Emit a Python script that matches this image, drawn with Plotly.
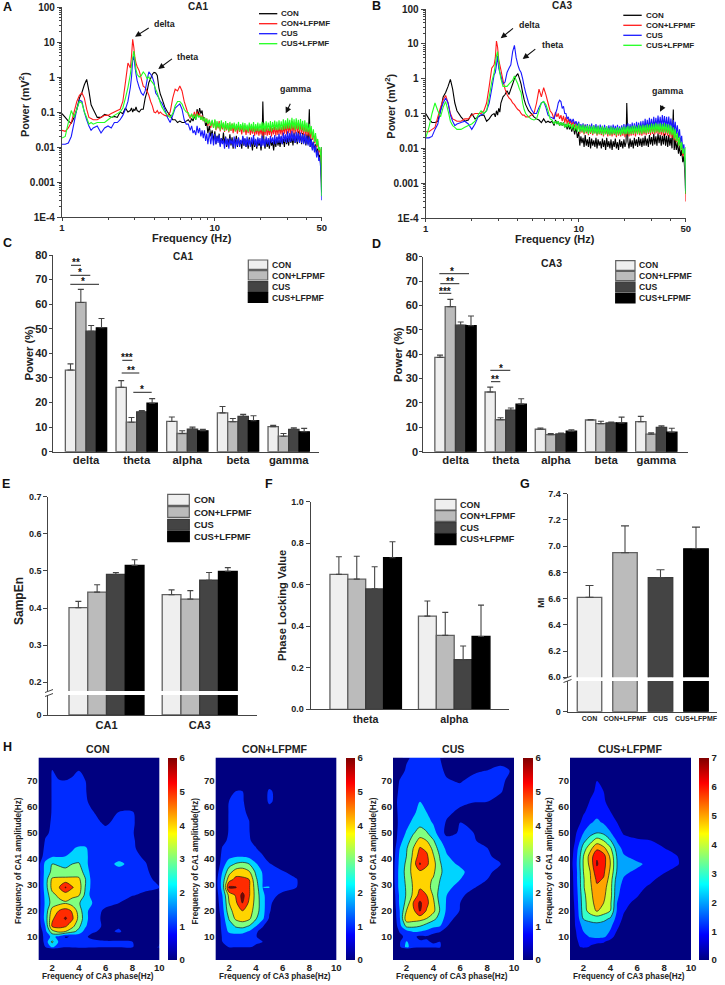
import plotly.graph_objects as go

W, H = 725, 985
FONT = "Liberation Sans"
GROUPS = ["CON", "CON+LFPMF", "CUS", "CUS+LFPMF"]
LINE_COLORS = ["#000000", "#ff1a1a", "#1a1aff", "#22ff22"]
BAR_FILL = ["#efefef", "#bbbbbb", "#444444", "#000000"]
BAR_EDGE = ["#606060", "#606060", "#3a3a3a", "#000000"]
AXC = "#444444"

# ------------------------------------------------------- spectra (A, B)
FREQ_LOW = [1.0,1.05,1.1,1.15,1.2,1.25,1.3,1.35,1.4,1.45,1.5,1.55,1.6,
        1.7,1.8,1.9,2.0,2.1,2.2,2.3,2.4,2.5,2.6,2.7,2.8,
        2.85,2.9,2.95,3.0,3.05,3.1,
        3.2,3.3,3.4,3.5,3.6,3.7,3.8,3.9,4.0,4.1,4.2,4.3,4.4,4.5,
        4.7,4.9,5.1,5.3,5.5,5.7,5.9,6.1,6.3,6.5,
        6.7,6.9,7.05,7.2,7.35,7.5,7.65,7.8,7.95,8.1,8.25,8.4,8.55,8.7,8.85,9.0,9.2,9.4,9.6,9.8]
FREQ_HIGH = [10,10.16,10.33,10.5,10.67,10.84,11.02,11.2,11.38,11.57,
        11.76,11.95,12.14,12.34,12.54,12.75,12.96,13.17,13.38,13.6,
        13.82,14.05,14.28,14.51,14.75,14.99,15.23,15.48,15.73,15.99,
        16.25,16.52,16.79,17.06,17.34,17.62,17.91,18.2,18.5,18.8,
        19.1,19.41,19.73,20.05,20.38,20.6,20.95,21.3,21.65,22,
        22.36,22.73,23.1,23.48,23.86,24.25,24.64,25.05,25.45,25.87,
        26.29,26.72,27.16,27.6,28.05,28.51,28.97,29.44,29.92,30.41,
        30.91,31.41,31.92,32.44,32.97,33.51,34.06,34.61,35.18,35.75,
        36.33,36.93,37.53,38.14,38.76,39.39,40.03,40.69,41.5,42.03,
        42.72,43.41,44.12,44.84,45.57,46.31,47.07,47.84,48.62,49.4,
        49.7,49.9,50]
FREQ = FREQ_LOW + FREQ_HIGH

A_CON = [.09,.07,.055,.048,.07,.12,.25,.36,.6,.85,.4,.16,.12,
         .07,.07,.085,.08,.07,.075,.07,.1,.09,.13,.1,.11,
         .13,.1,.12,.11,.14,.11,
         .1,.12,.12,.25,.38,.7,.9,1.2,1.35,1.3,1.1,.5,.32,.25,
         .14,.1,.08,.06,.06,.05,.055,.05,.05,.055,
         .06,.05,.065,.055,.08,.06,.12,.08,.13,.09,.11,.06,.07,.04,.05,.025,.04,.02,.03,.015,
         .028,.012,.021,.015,.024,.011,.018,.013,.026,.012,
         .02,.01,.017,.012,.023,.011,.019,.009,.016,.013,
         .021,.01,.018,.012,.015,.009,.02,.011,.017,.01,
         .016,.009,.019,.012,.014,.008,.018,.01,.016,.009,
         .017,.011,.014,.008,.016,.2,.013,.009,.017,.01,
         .015,.009,.018,.011,.014,.008,.017,.01,.019,.011,
         .016,.01,.02,.012,.017,.01,.022,.012,.018,.011,
         .024,.013,.019,.011,.026,.013,.021,.012,.028,.014,
         .022,.012,.025,.013,.02,.011,.023,.012,.12,.01,
         .017,.009,.014,.008,.012,.006,.009,.005,.006,.0025,
         .0012,.0005,.01]
A_CONL = [.03,.028,.035,.05,.1,.2,.3,.35,.25,.12,.07,.065,.06,
          .06,.07,.08,.08,.09,.1,.11,.12,.2,.7,2.5,1.8,
          4,12,7,3.5,2.5,2,
          1.5,.9,.55,.5,.4,.3,.2,.15,.1,.095,.11,.09,.1,.09,
          .08,.075,.1,.25,.45,.4,.55,.4,.2,.13,
          .085,.065,.085,.07,.1,.07,.105,.075,.09,.06,.08,.055,.07,.05,.065,.04,.06,.035,.055,.035,
          .058,.03,.05,.034,.055,.028,.046,.032,.05,.027,
          .045,.03,.048,.026,.042,.029,.047,.025,.043,.028,
          .04,.024,.044,.027,.038,.023,.042,.026,.04,.022,
          .037,.025,.041,.022,.036,.024,.04,.021,.035,.023,
          .038,.021,.034,.023,.037,.02,.035,.022,.038,.021,
          .034,.022,.037,.02,.035,.023,.039,.021,.036,.022,
          .04,.023,.037,.021,.042,.024,.045,.023,.05,.025,
          .044,.023,.055,.025,.048,.024,.052,.026,.046,.023,
          .05,.024,.044,.022,.046,.02,.04,.021,.036,.018,
          .033,.016,.027,.013,.021,.01,.015,.007,.009,.004,
          .0018,.0008,.001]
A_CUS = [.012,.012,.013,.02,.05,.12,.22,.2,.1,.06,.04,.03,.035,
         .04,.025,.035,.04,.035,.05,.05,.06,.08,.12,.2,.5,
         1.0,3,4,2,1.2,.8,
         .5,.35,.3,.4,.8,1.4,1.2,1,.7,.35,.3,.25,.2,.18,
         .12,.07,.05,.08,.13,.15,.17,.12,.06,.045,
         .045,.03,.04,.025,.03,.022,.04,.025,.035,.02,.03,.018,.03,.015,.024,.012,.026,.012,.025,.011,
         .024,.012,.02,.013,.022,.01,.018,.012,.016,.009,
         .019,.011,.017,.009,.018,.012,.016,.01,.02,.009,
         .017,.011,.019,.01,.016,.012,.021,.011,.018,.01,
         .02,.011,.017,.01,.019,.012,.022,.011,.017,.01,
         .019,.012,.018,.01,.021,.011,.017,.01,.02,.012,
         .018,.011,.021,.013,.019,.012,.022,.012,.02,.013,
         .024,.013,.021,.012,.026,.014,.023,.013,.028,.014,
         .025,.014,.029,.015,.024,.013,.027,.014,.025,.013,
         .026,.013,.023,.012,.024,.012,.021,.011,.02,.01,
         .017,.008,.014,.007,.011,.005,.008,.004,.005,.002,
         .001,.0003,.0005]
A_CUSL = [.018,.02,.05,.11,.07,.12,.2,.18,.1,.07,.045,.05,.045,
          .05,.05,.05,.06,.07,.08,.09,.1,.13,.25,.5,1.2,
          2.2,3.5,5.5,3,1.6,1.2,
          1,1.1,1.4,1.2,.9,1,.8,.7,.6,.45,.35,.25,.18,.14,
          .1,.08,.07,.09,.15,.2,.2,.17,.12,.1,
          .095,.07,.09,.065,.085,.06,.09,.07,.08,.06,.075,.055,.07,.05,.065,.045,.06,.04,.06,.035,
          .062,.032,.055,.036,.05,.03,.058,.034,.05,.029,
          .055,.031,.048,.028,.052,.03,.047,.033,.05,.028,
          .046,.03,.052,.028,.045,.031,.05,.027,.048,.03,
          .044,.027,.05,.03,.046,.028,.052,.027,.045,.029,
          .05,.028,.047,.03,.052,.028,.049,.027,.054,.03,
          .05,.029,.055,.028,.052,.031,.057,.03,.053,.03,
          .058,.031,.054,.03,.062,.032,.058,.033,.066,.034,
          .06,.032,.068,.034,.062,.03,.066,.033,.06,.03,
          .063,.03,.056,.028,.058,.027,.05,.026,.046,.023,
          .04,.018,.032,.014,.025,.011,.017,.008,.01,.005,
          .0025,.0004,.01]

B_CON = [.1,.07,.055,.055,.06,.12,.3,.4,.6,.95,.5,.2,.12,
         .08,.06,.065,.1,.07,.08,.09,.09,.06,.07,.09,.1,
         .08,.12,.09,.14,.11,.2,
         .3,.35,.45,.35,.5,.7,1,1.2,1.4,1.0,.7,.4,.25,.18,
         .12,.1,.08,.07,.065,.055,.07,.055,.06,.055,
         .06,.045,.065,.05,.06,.045,.055,.045,.055,.04,.05,.035,.05,.035,.045,.03,.045,.025,.04,.02,
         .03,.012,.022,.014,.02,.011,.024,.012,.018,.011,
         .021,.01,.019,.012,.017,.011,.02,.01,.018,.012,
         .016,.01,.019,.011,.017,.009,.02,.011,.016,.01,
         .018,.009,.016,.011,.019,.01,.015,.009,.018,.011,
         .016,.01,.018,.011,.015,.2,.016,.01,.019,.011,
         .017,.01,.02,.012,.018,.011,.021,.012,.019,.011,
         .02,.012,.023,.012,.019,.011,.024,.013,.021,.012,
         .026,.013,.022,.012,.027,.014,.024,.012,.023,.013,
         .026,.012,.023,.011,.024,.012,.02,.01,.13,.009,
         .018,.009,.015,.007,.012,.006,.009,.004,.006,.002,
         .0012,.0005,.0009]
B_CONL = [.03,.03,.035,.04,.08,.15,.25,.33,.2,.1,.07,.065,.06,
          .06,.07,.07,.09,.1,.1,.1,.12,.2,.6,2,2.5,
          4,12,8,3.5,2.5,1.8,
          .9,.5,.35,.28,.25,.2,.18,.15,.13,.12,.1,.09,.09,.08,
          .08,.09,.1,.2,.5,.3,.55,.35,.2,.12,
          .1,.07,.11,.08,.1,.07,.09,.06,.085,.055,.08,.05,.07,.05,.065,.045,.06,.04,.055,.035,
          .05,.026,.046,.028,.042,.025,.048,.027,.043,.024,
          .047,.026,.041,.024,.044,.027,.04,.023,.043,.025,
          .038,.024,.042,.022,.039,.025,.037,.022,.041,.023,
          .036,.022,.04,.024,.037,.021,.039,.023,.036,.022,
          .04,.023,.037,.021,.041,.024,.038,.022,.042,.023,
          .04,.024,.043,.022,.041,.025,.044,.024,.042,.023,
          .046,.025,.043,.024,.048,.026,.045,.024,.05,.026,
          .046,.025,.052,.027,.048,.025,.05,.024,.047,.023,
          .05,.024,.045,.023,.046,.021,.04,.02,.036,.017,
          .032,.015,.026,.012,.019,.009,.013,.006,.008,.004,
          .0018,.0007,.0003]
B_CUS = [.02,.02,.022,.035,.05,.12,.2,.28,.2,.09,.06,.045,.05,
         .055,.06,.05,.035,.05,.08,.09,.1,.12,.2,.5,1.3,
         1.5,2.5,4.5,2,1.5,1.2,
         .7,.8,1.5,2,2.5,6,9,4,2.5,1.8,1.5,1,.6,.4,
         .2,.13,.1,.1,.15,.2,.22,.15,.09,.08,
         .075,.07,.1,.13,.2,.24,.22,.14,.16,.1,.1,.07,.08,.06,.07,.055,.07,.05,.06,.045,
         .058,.03,.05,.033,.052,.029,.048,.031,.05,.027,
         .047,.03,.051,.028,.046,.03,.05,.027,.045,.029,
         .048,.028,.044,.027,.047,.029,.043,.026,.046,.028,
         .045,.027,.048,.029,.044,.026,.047,.028,.043,.026,
         .046,.028,.05,.027,.048,.029,.052,.028,.05,.03,
         .055,.03,.052,.029,.058,.032,.055,.03,.06,.032,
         .062,.033,.07,.035,.066,.034,.075,.037,.07,.036,
         .08,.038,.075,.04,.088,.042,.08,.04,.09,.042,
         .085,.04,.08,.038,.082,.037,.072,.034,.065,.03,
         .058,.026,.046,.02,.035,.014,.023,.009,.013,.005,
         .0022,.0006,.0006]
B_CUSL = [.02,.04,.1,.2,.12,.08,.15,.22,.12,.06,.045,.04,.035,
          .035,.04,.045,.05,.06,.09,.12,.1,.12,.3,.8,1.5,
          2.5,4.5,6,3,1.5,1,
          .6,.6,.6,.7,.8,.9,1.2,.9,.7,.5,.4,.2,.13,.1,
          .08,.07,.065,.07,.12,.2,.22,.18,.12,.07,
          .065,.05,.06,.05,.06,.045,.055,.045,.055,.04,.05,.04,.055,.04,.05,.035,.05,.032,.05,.03,
          .052,.029,.046,.03,.048,.027,.044,.029,.046,.026,
          .045,.028,.043,.026,.046,.027,.042,.025,.044,.026,
          .041,.026,.044,.024,.04,.026,.043,.025,.039,.024,
          .042,.025,.04,.026,.038,.024,.041,.025,.039,.024,
          .04,.026,.043,.025,.041,.026,.044,.025,.042,.026,
          .044,.026,.046,.027,.043,.026,.047,.027,.045,.026,
          .048,.028,.046,.027,.05,.028,.047,.028,.052,.029,
          .05,.028,.054,.03,.05,.028,.053,.029,.05,.028,
          .053,.028,.05,.027,.048,.025,.045,.024,.04,.019,
          .035,.016,.028,.012,.021,.009,.015,.007,.01,.004,
          .0024,.0005,.011]

# ------------------------------------------------------- band power (C, D)
BANDS = ["delta", "theta", "alpha", "beta", "gamma"]
C_VAL = [[33.2,26.2,12.3,15.8,10.2],[60.7,12,7.4,12.2,6.3],[49,16.2,9.2,14.4,9.1],[50.4,19.7,8.5,12.6,8.1]]
C_TOP = [[35.7,28.9,14.1,18.4,10.7],[66,13.9,8.5,13.5,7.4],[51.3,16.7,10,15.2,9.7],[54.2,21.6,9.1,14.6,9.5]]
D_VAL = [[38.7,24.5,9.2,13,12.3],[59.5,13.1,7,11.5,7.2],[51.9,17,7.3,11.8,10],[51.7,19.5,8.4,11.8,8]]
D_TOP = [[39.6,26.5,9.7,13.2,14.5],[62.5,13.9,7.4,12.5,7.8],[53.2,17.9,7.6,12.2,10.6],[55.7,21.7,9,14.2,9.6]]

# ------------------------------------------------------- E, F, G
E_CATS = ["CA1", "CA3"]
E_VAL = [[.401,.436],[.443,.424],[.491,.475],[.515,.499]]
E_TOP = [[.418,.449],[.463,.447],[.496,.496],[.53,.509]]
F_CATS = ["theta", "alpha"]
F_VAL = [[.65,.449],[.627,.356],[.58,.239],[.73,.351]]
F_TOP = [[.735,.522],[.737,.467],[.687,.305],[.807,.502]]
G_VAL = [6.61,6.95,6.76,6.98]
G_TOP = [6.70,7.155,6.82,7.145]

# ------------------------------------------------------- comodulograms (H)
PHASE = [1,1.5,2,2.5,3,3.5,4,4.5,5,6,7,8,9,10]
AMP = [1,5,6,8,10,12,14,17,20,23,26,29,32,35,38,41,44,47,50,54,58,62,66,70,74,79]
Z0 = [0]*14
H_CON = [Z0, Z0,
 [0,1,2.2,1.5,1.1,1.2,1.3,1.3,1.2,1.1,1.1,1.05,.6,1.1],
 [0,1.4,3.2,1.9,1.3,1.2,1.8,1.7,1.2,1.1,1.1,1.0,.4,.3],
 [0,1.5,2.2,1.8,.9,1.1,1.2,1.1,.8,.6,.6,.3,0,0],
 [.1,1.7,3.6,4.3,4.0,3.3,2.7,1.5,1.1,.8,1.1,.5,0,0],
 [.5,2.0,5.1,5.3,5.1,4.3,3.2,2.1,1.2,.9,.9,.3,0,0],
 [.6,2.4,4.9,5.3,6.15,5.2,3.7,2.4,1.3,.8,.4,.1,0,0],
 [.6,2.3,4.4,5.0,5.4,4.9,3.5,2.3,1.5,.8,.2,0,0,0],
 [.6,2.2,3.4,3.7,3.9,3.5,3.1,2.4,2.0,1.3,1.0,.5,.2,0],
 [.6,2.3,3.7,4.2,4.4,4.3,4.1,2.7,1.5,1.3,1.2,1.05,.8,.5],
 [.6,2.5,4.3,4.9,6.1,5.1,4.5,2.9,1.6,1.4,1.3,1.3,1.2,1.0],
 [.6,2.5,4.2,4.3,4.4,4.3,4.2,3.0,1.6,1.4,1.5,1.3,1.3,.7],
 [.6,2.4,3.2,3.3,3.1,3.4,3.5,2.6,1.5,1.3,1.3,1.3,1.2,.3],
 [.7,2.3,3.0,2.9,2.9,3.0,3.1,2.3,1.4,1.3,2.4,1.4,1.05,.1],
 [.3,1.5,1.9,1.9,2.0,2.2,2.5,2.3,1.4,1.3,1.3,1.3,.8,0],
 [.1,1.3,1.5,1.5,1.6,1.9,2.2,2.2,1.3,1.2,1.2,1.2,.4,0],
 [0,1.1,1.3,1.3,1.4,1.4,1.4,1.3,1.2,1.2,1.2,1.2,.1,0],
 [0,.8,1.2,1.3,1.3,1.3,1.3,1.3,1.2,1.2,1.3,1.1,0,0],
 [0,.4,1.2,1.3,1.3,1.3,1.3,1.3,1.2,.9,1.2,1.2,0,0],
 [0,.2,1.1,1.3,1.3,1.3,1.3,1.3,1.1,.3,1.05,1.1,0,0],
 [0,0,1.1,1.3,1.3,1.3,1.3,1.2,.6,0,0,0,0,0],
 [0,0,1.1,1.3,1.3,1.3,1.3,1.1,.2,0,0,0,0,0],
 [0,0,1.1,1.1,1.05,1.2,1.3,1.0,0,0,0,0,0,0],
 [0,0,1.05,.4,.3,.7,1.0,.3,0,0,0,0,0,0],
 Z0]
H_CONL = [Z0, Z0,
 [0,0,1.1,1.1,1.1,1.05,.9,.8,.3,0,0,0,0,0],
 [0,1.0,1.1,1.2,1.2,1.2,1.1,1,.2,0,0,0,0,0],
 [0,1.1,1.4,1.5,1.5,1.3,1.1,.3,0,0,0,0,0,0],
 [0,1.2,2.2,2.4,2.3,1.9,1.2,.5,0,0,0,0,0,0],
 [0,1.3,2.5,3.1,3.3,2.9,2.0,1.1,.2,0,0,0,0,0],
 [0,1.4,3.1,4.2,4.5,4.2,3.1,2.2,.9,0,0,0,0,0],
 [.2,1.6,3.7,4.4,5.0,4.5,3.5,2.4,1.1,0,0,0,0,0],
 [.3,1.8,4.0,4.8,6.05,4.8,3.6,2.4,1.2,.2,0,0,0,0],
 [.4,2.0,4.3,5.1,6.3,5.1,3.6,2.3,1.3,.8,.1,0,0,0],
 [.5,2.4,6.15,6.05,5.4,5.1,3.5,2.0,2.05,1.3,1.05,0,0,0],
 [.5,2.4,4.6,5.3,5.2,5.0,3.2,2.0,1.4,1.3,1.1,0,0,0],
 [.3,2.0,3.6,4.5,4.6,4.1,2.8,1.9,1.3,1.1,.5,0,0,0],
 [.1,1.5,2.6,3.1,3.3,3.0,2.1,1.5,1.1,.3,0,0,0,0],
 [0,1.3,1.7,1.9,1.9,1.7,1.4,1.1,.4,0,0,0,0,0],
 [0,1.1,1.3,1.4,1.4,1.3,1.05,.6,0,0,0,0,0,0],
 [0,.7,1.2,1.2,1.2,1.1,.7,0,0,0,0,0,0,0],
 [0,.4,1.1,1.2,1.2,1.05,.4,0,0,0,0,0,0,0],
 [0,.2,1.1,1.2,1.2,1.02,.2,0,0,0,0,0,0,0],
 [0,.1,1.1,1.2,1.1,.9,0,0,0,0,0,0,0,0],
 [0,0,1.05,1.2,1.1,.6,0,0,1.3,0,0,0,0,0],
 [0,0,.3,1.02,1.02,.2,0,0,1.3,0,0,0,0,0],
 Z0, Z0, Z0]
H_CUS = [Z0, Z0,
 [0,.8,2.3,1.4,1.2,1.2,1.2,1.1,.1,0,0,0,0,0],
 [0,.9,2.1,1.5,1.1,1.1,.9,1.0,0,0,0,0,0,0],
 [0,.7,1.3,1.2,.8,.9,.6,.2,0,0,0,0,0,0],
 [0,1.1,1.6,2.1,2.0,1.8,1.3,1.1,.2,0,0,0,0,0],
 [0,1.6,3.2,3.2,3.0,2.5,2.2,2.0,1.05,0,0,0,0,0],
 [.1,1.9,4.6,4.5,4.4,4.0,3.3,2.6,1.5,.5,0,0,0,0],
 [.2,2.0,4.0,4.7,6.1,4.9,4.3,2.9,1.8,.95,0,0,0,0],
 [.3,2.2,3.3,5.0,6.2,5.3,4.2,2.7,1.9,1.0,.2,0,0,0],
 [.4,2.2,3.1,4.2,5.4,5.0,3.9,2.5,2.0,1.3,.4,0,0,0],
 [.5,2.4,3.1,4.1,4.9,4.4,3.7,2.8,2.2,1.7,1.1,.4,0,0],
 [.6,2.4,3.2,4.2,4.5,4.3,3.9,3.0,2.4,2.0,1.3,1.0,0,0],
 [.6,2.4,3.3,4.4,4.8,4.6,4.2,3.2,2.5,2.3,1.4,1.2,.7,0],
 [.6,2.3,3.2,4.4,6.1,5.2,4.4,3.1,2.4,1.8,1.4,1.2,1.05,0],
 [.5,2.2,3.0,4.2,5.5,5.2,4.1,2.9,2.1,1.4,1.3,1.2,.6,0],
 [.4,2.0,2.9,4.0,5.1,4.8,3.7,2.5,1.8,1.3,1.2,1.05,.1,0],
 [.3,1.6,2.6,3.4,4.4,4.0,3.1,2.1,1.4,1.2,1.1,.6,0,0],
 [.3,1.4,2.1,2.9,3.4,3.1,2.4,1.5,.7,1.1,1.0,.2,0,0],
 [.5,1.2,1.7,2.2,2.7,2.4,1.9,1.2,.95,1.0,.3,0,0,0],
 [.6,1.2,1.5,1.8,2.3,2.0,1.6,1.2,1.1,.9,.2,0,0,0],
 [.7,1.2,1.4,1.5,2.0,1.5,1.3,1.2,1.2,1.1,1.05,1.0,.6,.1],
 [.7,1.1,1.3,1.3,1.4,1.3,1.3,1.2,1.2,1.2,1.2,1.2,1.1,.3],
 [.4,1.05,1.2,1.3,1.3,1.3,1.3,1.2,1.05,.95,1.2,1.2,1.2,.6],
 [0,.7,1.1,1.2,1.2,1.2,1.2,1.1,.9,.6,.9,1.02,1.6,.7],
 [0,0,.9,1.1,1.1,1.1,1.1,1.0,.2,0,0,0,0,0]]
H_CUSL = [Z0, Z0,
 [0,.7,1.3,.9,.6,.5,0,0,0,0,0,0,0,0],
 [0,.9,1.4,1.3,1.2,1.1,.6,0,0,0,0,0,0,0],
 [0,1.0,1.6,2.1,2.3,2.2,1.5,.5,0,0,0,0,0,0],
 [0,1.1,2.0,2.4,2.9,2.6,1.9,.9,0,0,0,0,0,0],
 [0,1.3,2.3,2.6,2.6,2.5,2.2,1.3,.3,0,0,0,0,0],
 [0,1.4,3.1,3.3,3.5,3.3,2.9,1.6,.8,0,0,0,0,0],
 [0,1.5,3.5,4.5,5.1,4.6,4.0,1.9,1.1,.2,0,0,0,0],
 [.1,1.6,3.6,4.6,5.4,5.0,4.2,2.0,1.3,.7,0,0,0,0],
 [.2,1.7,3.7,4.7,5.6,5.2,4.4,2.2,1.5,1.1,.2,0,0,0],
 [.2,1.8,3.9,4.8,5.8,5.4,4.4,2.3,1.7,1.3,.8,0,0,0],
 [.2,1.9,3.9,4.9,6.2,5.9,4.5,2.5,1.9,1.5,1.2,.6,0,0],
 [.3,1.9,4.0,5.0,6.7,6.2,4.8,2.9,2.2,1.8,1.4,1.1,.6,0],
 [.4,2.0,4.1,5.3,7.1,6.4,5.0,3.0,2.4,2.2,1.7,1.3,1.1,.1],
 [.3,1.9,4.0,5.4,6.9,6.4,4.8,2.9,2.1,1.6,1.4,1.2,1.0,0],
 [.2,1.7,3.5,4.7,5.8,5.3,4.2,2.5,1.7,1.4,1.2,1.05,.4,0],
 [.1,1.3,2.7,3.6,4.5,4.0,3.1,1.9,1.3,1.1,1.02,.5,0,0],
 [0,1.05,2.0,2.6,3.0,2.8,2.1,1.4,.9,.7,.3,0,0,0],
 [0,.6,1.3,1.9,2.2,1.9,1.4,1.0,.2,0,0,0,0,0],
 [0,.1,.9,1.3,1.7,1.4,1.05,.4,0,0,0,0,0,0],
 [0,0,.3,1.1,1.4,1.2,.5,0,0,0,0,0,0,0],
 [0,0,0,.7,1.2,1.0,0,0,0,0,0,0,0,0],
 [0,0,0,.1,1.0,.2,0,0,0,0,0,0,0,0],
 Z0, Z0]
JET_BAR = [[0,"#000080"],[.125,"#0000ff"],[.375,"#00ffff"],[.625,"#ffff00"],[.875,"#ff0000"],[1,"#800000"]]
BANDS6 = ["#000080","#002bff","#00d4ff","#80ff80","#ffd400","#ff2b00","#800000"]
BANDS7 = ["#000080","#0012ff","#00a4ff","#36ffc8","#c8ff36","#ffa400","#ff1200","#800000"]

for s in (A_CON,A_CONL,A_CUS,A_CUSL,B_CON,B_CONL,B_CUS,B_CUSL):
    assert len(s) == len(FREQ), len(s)
for g in (H_CON,H_CONL,H_CUS,H_CUSL):
    assert len(g) == len(AMP), len(g)
    assert all(len(r) == len(PHASE) for r in g)

# ------------------------------------------------------- helpers
def xd(a, b): return [a / W, b / W]
def yd(top, bot): return [1 - bot / H, 1 - top / H]
def px(x): return x / W
def py(y): return 1 - y / H

fig = go.Figure()
ann, shp, lay = [], [], {}

def txt(x, y, s, size, bold=True, angle=0, anchor="center", color="#222222"):
    ann.append(dict(x=px(x), y=py(y), xref="paper", yref="paper", text=s, showarrow=False,
                    xanchor=anchor, yanchor="middle", textangle=angle,
                    font=dict(size=size, family=FONT, color=color, weight="bold" if bold else "normal")))

def arrow(x0, y0, x1, y1):
    ann.append(dict(x=px(x1), y=py(y1), xref="paper", yref="paper", text=" ", showarrow=True,
                    ax=x0 - x1, ay=y0 - y1, arrowhead=2, arrowsize=1.1, arrowwidth=1.1, arrowcolor="#111111"))

def hline(x0, x1, y, color="#222222", w=1):
    shp.append(dict(type="line", xref="paper", yref="paper", x0=px(x0), x1=px(x1), y0=py(y), y1=py(y),
                    line=dict(color=color, width=w)))

def seg(x0, y0, x1, y1, w=1, color=AXC):
    shp.append(dict(type="line", xref="paper", yref="paper", x0=px(x0), x1=px(x1), y0=py(y0), y1=py(y1),
                    line=dict(color=color, width=w)))

def swatch(x0, x1, y0, y1, i):
    shp.append(dict(type="rect", xref="paper", yref="paper", x0=px(x0), x1=px(x1), y0=py(y1), y1=py(y0),
                    fillcolor=BAR_FILL[i], line=dict(color=BAR_EDGE[i], width=1.2)))

def axis(idx, dom_key, **kw):
    lay[dom_key + ("axis" if idx == 1 else "axis%d" % idx)] = kw

TF = lambda s: dict(size=s, family=FONT, color="#222222", weight="bold")

# ------------------------------------------------------- spectra
MINOR_Y = [m * 10 ** e for e in range(-4, 2) for m in range(2, 10)]
MINOR_X = [2,3,4,5,6,7,8,9,20,30,40]
def spectrum(idx, left, right, top, bot, series):
    for i, s in enumerate(series):
        fig.add_trace(go.Scatter(x=FREQ, y=s, mode="lines", line=dict(color=LINE_COLORS[i], width=1.1, simplify=False),
                                 xaxis="x%d" % idx, yaxis="y%d" % idx, showlegend=False))
    axis(idx, "x", domain=xd(left, right), type="log", range=[0, 1.69897], anchor="y%d" % idx,
         tickmode="array", tickvals=[1, 10, 50], ticktext=["1", "10", "50"], ticks="outside", ticklen=3,
         ticklabelstandoff=-2, tickcolor=AXC, showgrid=False, zeroline=False, showline=True, linecolor=AXC, linewidth=1.2,
         tickfont=TF(9.5), minor=dict(tickmode="array", tickvals=MINOR_X, ticks="outside", ticklen=2, tickcolor=AXC, showgrid=False))
    axis(idx, "y", domain=yd(top, bot), type="log", range=[-4, 2], anchor="x%d" % idx,
         tickmode="array", tickvals=[100, 10, 1, .1, .01, .001, .0001],
         ticktext=["100", "10", "1", "0.1", "0.01", "0.001", "1E-4"], ticks="outside", ticklen=4,
         tickcolor=AXC, showgrid=False, zeroline=False, showline=True, linecolor=AXC, linewidth=1.2,
         tickfont=TF(10), minor=dict(tickmode="array", tickvals=MINOR_Y, ticks="outside", ticklen=2, tickcolor=AXC, showgrid=False))

spectrum(1, 62, 321.7, 7, 217, [A_CON, A_CONL, A_CUS, A_CUSL])
spectrum(2, 425.7, 685.7, 9, 218, [B_CON, B_CONL, B_CUS, B_CUSL])

# ------------------------------------------------------- grouped bars
def bars(idx, vals, tops, gw, errors=True):
    n = len(vals)
    w = gw / n
    for i in range(n):
        tr = dict(x=list(range(len(vals[i]))), y=vals[i], width=w, offset=-gw / 2 + i * w,
                  marker=dict(color=BAR_FILL[i], line=dict(color=BAR_EDGE[i], width=1.3)),
                  xaxis="x%d" % idx, yaxis="y%d" % idx, showlegend=False)
        if errors:
            tr["error_y"] = dict(type="data", symmetric=False, array=[t - v for t, v in zip(tops[i], vals[i])],
                                 arrayminus=[0] * len(vals[i]), color="#444444", thickness=1.1, width=3)
        fig.add_trace(go.Bar(**tr))

def yaxis_common(ls=10, tl=4, so=0):
    return dict(ticks="outside", ticklen=tl, ticklabelstandoff=so, tickcolor=AXC, showgrid=False, zeroline=False, showline=True,
                linecolor=AXC, linewidth=1.2, tickfont=TF(ls))

def band_panel(idx, left, right, top, bot, c0, sp, vals, tops):
    bars(idx, vals, tops, 41.3 / sp)
    axis(idx, "x", domain=xd(left, right), range=[(left - c0) / sp, (right - c0) / sp], anchor="y%d" % idx,
         tickmode="array", tickvals=list(range(5)), ticktext=BANDS, ticks="", ticklabelstandoff=-2, showgrid=False, zeroline=False,
         showline=True, linecolor=AXC, linewidth=1.2, tickfont=TF(11.3))
    axis(idx, "y", domain=yd(top, bot), range=[0, 80], anchor="x%d" % idx, dtick=10, **yaxis_common(11, 3, -1))

band_panel(3, 52.7, 319, 255, 451.7, 86, 50.67, C_VAL, C_TOP)
band_panel(4, 423.3, 687.7, 256.7, 451.7, 455.5, 50.2, D_VAL, D_TOP)

# E (broken axis)
E_L, E_R, E_C, E_S = 48.3, 256.7, 106.5, 93.2
bars(5, E_VAL, E_TOP, 75 / E_S)
bars(6, E_VAL, E_TOP, 75 / E_S, errors=False)
axis(5, "x", domain=xd(E_L, E_R), range=[(E_L - E_C) / E_S, (E_R - E_C) / E_S], anchor="y5", visible=False)
axis(5, "y", domain=yd(496.7, 691), range=[.1766, .7], anchor="x5", tickmode="array",
     tickvals=[.2, .3, .4, .5, .6, .7], ticktext=["0.2", "0.3", "0.4", "0.5", "0.6", "0.7"], **yaxis_common(9))
axis(6, "x", domain=xd(E_L, E_R), range=[(E_L - E_C) / E_S, (E_R - E_C) / E_S], anchor="y6", tickmode="array",
     tickvals=[0, 1], ticktext=E_CATS, ticks="", showgrid=False, zeroline=False, showline=True, linecolor=AXC,
     linewidth=1.2, tickfont=TF(11))
axis(6, "y", domain=yd(695, 715), range=[0, .05], anchor="x6", tickmode="array", tickvals=[0], ticktext=["0"], **yaxis_common(9))
seg(45, 692.5, 53, 689.5)
seg(45, 696.5, 53, 693.5)

# F
F_L, F_R, F_C, F_S = 310.7, 509.3, 365.7, 88.5
bars(7, F_VAL, F_TOP, 71.5 / F_S)
axis(7, "x", domain=xd(F_L, F_R), range=[(F_L - F_C) / F_S, (F_R - F_C) / F_S], anchor="y7", tickmode="array",
     tickvals=[0, 1], ticktext=F_CATS, ticks="", showgrid=False, zeroline=False, showline=True, linecolor=AXC,
     linewidth=1.2, tickfont=TF(10.7))
axis(7, "y", domain=yd(501.7, 709.3), range=[0, 1], anchor="x7", tickmode="array",
     tickvals=[0, .2, .4, .6, .8, 1], ticktext=["0.0", "0.2", "0.4", "0.6", "0.8", "1.0"], **yaxis_common(9))

# G (broken axis)
G_L, G_R, G_C, G_S = 567.7, 716.7, 589.5, 35.5
for sub, errs in ((8, True), (9, False)):
    for i in range(4):
        tr = dict(x=[i], y=[G_VAL[i]], width=24.5 / G_S, marker=dict(color=BAR_FILL[i], line=dict(color=BAR_EDGE[i], width=1.3)),
                  xaxis="x%d" % sub, yaxis="y%d" % sub, showlegend=False)
        if errs:
            tr["error_y"] = dict(type="data", symmetric=False, array=[G_TOP[i] - G_VAL[i]], arrayminus=[0],
                                 color="#444444", thickness=1.1, width=4)
        fig.add_trace(go.Bar(**tr))
axis(8, "x", domain=xd(G_L, G_R), range=[(G_L - G_C) / G_S, (G_R - G_C) / G_S], anchor="y8", visible=False)
axis(8, "y", domain=yd(493.7, 677.3), range=[6, 7.4], anchor="x8", tickmode="array",
     tickvals=[6, 6.2, 6.4, 6.6, 6.8, 7, 7.2, 7.4], ticktext=["6.0", "6.2", "6.4", "6.6", "6.8", "7.0", "7.2", "7.4"], **yaxis_common(9))
axis(9, "x", domain=xd(G_L, G_R), range=[(G_L - G_C) / G_S, (G_R - G_C) / G_S], anchor="y9", tickmode="array",
     tickvals=[0, 1, 2, 3], ticktext=GROUPS, ticks="", showgrid=False, zeroline=False, showline=True, linecolor=AXC,
     linewidth=1.2, tickfont=TF(7), tickangle=0)
axis(9, "y", domain=yd(681, 711.7), range=[0, 1], anchor="x9", tickmode="array", tickvals=[0], ticktext=["0"], **yaxis_common(9))
seg(563.5, 679, 571.5, 676)
seg(563.5, 682.5, 571.5, 679.5)

# ------------------------------------------------------- comodulograms
def como(idx, left, right, cb_left, cb_w, z, bands):
    n = len(bands) - 1
    top, bot = 757.7, 960
    xa, ya = "x%d" % idx, "y%d" % idx
    fig.add_trace(go.Heatmap(x=PHASE, y=AMP, z=z, zmin=0, zmax=n, colorscale=JET_BAR, xaxis=xa, yaxis=ya,
                             hoverinfo="skip",
                             colorbar=dict(x=px(cb_left), xanchor="left", xpad=0, y=py(bot), yanchor="bottom", ypad=0,
                                           len=(bot - top) / H, lenmode="fraction", thickness=cb_w, thicknessmode="pixels",
                                           outlinewidth=0, ticks="", tickmode="array", tickvals=list(range(n + 1)),
                                           ticktext=[str(k) for k in range(n + 1)], tickfont=TF(9.6))))
    fig.add_trace(go.Contour(x=PHASE, y=AMP, z=z, autocontour=False, showscale=False, xaxis=xa, yaxis=ya,
                             contours=dict(start=1, end=n, size=1, coloring="fill"),
                             colorscale=[[k / n, bands[k]] for k in range(n + 1)],
                             line=dict(width=0, smoothing=.9), showlegend=False))
    fig.add_trace(go.Contour(x=PHASE, y=AMP, z=z, autocontour=False, showscale=False, xaxis=xa, yaxis=ya,
                             contours=dict(start=3, end=n, size=1, coloring="none"),
                             line=dict(width=.7, color="#1a1a1a", smoothing=.9), showlegend=False))
    axis(idx, "x", domain=xd(left, right), range=[1, 10], anchor=ya, tickmode="array", tickvals=[2, 4, 6, 8, 10],
         ticks="", showgrid=False, zeroline=False, showline=False, tickfont=TF(9.6))
    axis(idx, "y", domain=yd(top, bot), range=[1, 79], anchor=xa, tickmode="array",
         tickvals=[10, 20, 30, 40, 50, 60, 70], ticks="", showgrid=False, zeroline=False, showline=False, tickfont=TF(9.6))

como(10, 38.7, 159.3, 168.3, 9.4, H_CON, BANDS6)
como(11, 215.7, 336.3, 345.7, 9.4, H_CONL, BANDS6)
como(12, 393, 514, 522.7, 10, H_CUS, BANDS6)
como(13, 570, 691, 699.3, 10, H_CUSL, BANDS7)

# ------------------------------------------------------- text and decorations
for s, x, y in (("A", 7, 7), ("B", 376.7, 6), ("C", 7.3, 243.5), ("D", 376.7, 244), ("E", 5.7, 484),
                ("F", 269, 484), ("G", 525, 484), ("H", 7.3, 747)):
    txt(x, y, s, 12.5, color="#111111")

txt(198.3, 6.7, "CA1", 10)
txt(562.3, 5.7, "CA3", 10)
txt(191.7, 237.5, "Frequency (Hz)", 11)
txt(555, 239, "Frequency (Hz)", 11)
txt(24, 105, "Power (mV<sup>2</sup>)", 11, angle=-90)
txt(390, 106.7, "Power (mV<sup>2</sup>)", 11, angle=-90)

for ys, x0, x1, tx in (((13.7, 23.7, 33.7, 43.7), 259, 277.3, 279.3), ((15.3, 25.3, 35.3, 45.3), 623.3, 641.7, 643.7)):
    for i, y in enumerate(ys):
        hline(x0, x1, y, LINE_COLORS[i], 1.3)
        txt(tx, y, GROUPS[i], 8, anchor="left")

txt(164, 24.3, "delta", 8.9); arrow(151.7, 26, 135, 36.7)
txt(187.7, 56.7, "theta", 8.9); arrow(175, 56.7, 158.3, 69)
txt(295, 89.3, "gamma", 8.9); arrow(293.3, 97.7, 285.7, 113.3)
txt(529.3, 25.3, "delta", 8.9); arrow(516, 26, 500.7, 38.3)
txt(552.7, 45, "theta", 8.9); arrow(538.3, 46.7, 522.7, 59)
txt(667, 90.7, "gamma", 8.9); arrow(666, 100, 660, 111.7)

txt(183.3, 256.7, "CA1", 10)
txt(551, 262.7, "CA3", 10.5)
txt(28.5, 353, "Power (%)", 11.3, angle=-90)
txt(398, 355, "Power (%)", 11.3, angle=-90)

def bar_legend(x0, x1, tx, rows, centers, size):
    for i in range(4):
        swatch(x0, x1, rows[i][0], rows[i][1], i)
        txt(tx, centers[i], GROUPS[i], size, anchor="left")

bar_legend(248.3, 267.7, 270, [(260, 269.3), (270.7, 280), (281.7, 291.7), (292.7, 302.3)], (264.7, 275.7, 286.7, 297.7), 8.6)
bar_legend(615.7, 635, 637, [(260.7, 270.3), (271.3, 280.7), (282, 292), (293.3, 303)], (265.3, 276.3, 287, 298), 8.6)
bar_legend(167.7, 189.3, 192, [(494.3, 505.3), (506.7, 517.3), (519.3, 530), (531, 541.7)], (500, 512, 524.3, 536), 9.4)
bar_legend(435, 456, 458.3, [(499.3, 510), (510.7, 521.3), (522.7, 533.3), (534, 544.7)], (504.7, 516, 527.7, 539), 9)

# significance marks, C
for a, b, y, s, tx, ty in ((71, 81, 265.3, "**", 76, 262), (70.3, 90.3, 275.3, "*", 80.3, 272),
                           (70.3, 99, 284.3, "*", 83, 281.5), (122.3, 132.3, 360.3, "***", 127, 357),
                           (121.7, 139.3, 373, "**", 131, 370.5), (133.3, 151.7, 392.3, "*", 142.3, 389.5)):
    hline(a, b, y); txt(tx, ty, s, 10, color="#111111")
# significance marks, D
for a, b, y, s, tx, ty in ((439.3, 469, 273.7, "*", 452, 271), (440.3, 459.3, 283.7, "**", 449.7, 281),
                           (439, 451.3, 293.3, "***", 445, 291), (490.3, 510.3, 370.3, "*", 501, 368),
                           (491, 500.3, 381.7, "**", 495, 379)):
    hline(a, b, y); txt(tx, ty, s, 10, color="#111111")

txt(18.3, 600.7, "SampEn", 12, angle=-90)
txt(282, 606, "Phase Locking Value", 11.2, angle=-90)
txt(541, 602.7, "MI", 9, angle=-90)

for name, cx in (("CON", 98.3), ("CON+LFPMF", 275), ("CUS", 453), ("CUS+LFPMF", 630)):
    txt(cx, 749.3, name, 10.6)
for cx, lx in ((98.3, 18.3), (275, 195.7), (452.3, 373.3), (629.3, 550)):
    txt(cx, 976.7, "Frequency of CA3 phase(Hz)", 8.2)
    txt(lx, 860.7, "Frequency of CA1 amplitude(Hz)", 8.2, angle=-90)

fig.update_layout(width=W, height=H, margin=dict(l=0, r=0, t=0, b=0, autoexpand=False), paper_bgcolor="white", plot_bgcolor="white",
                  barmode="overlay", showlegend=False, font=dict(family=FONT, color="#222222"),
                  annotations=ann, shapes=shp, **lay)
fig.write_html("out.html", config=dict(displayModeBar=False))
html = open("out.html", encoding="utf-8").read()
html = html.replace("<head>", "<head><style>html,body{margin:0;padding:0;overflow:hidden;background:#fff}</style>", 1)
open("out.html", "w", encoding="utf-8").write(html)
